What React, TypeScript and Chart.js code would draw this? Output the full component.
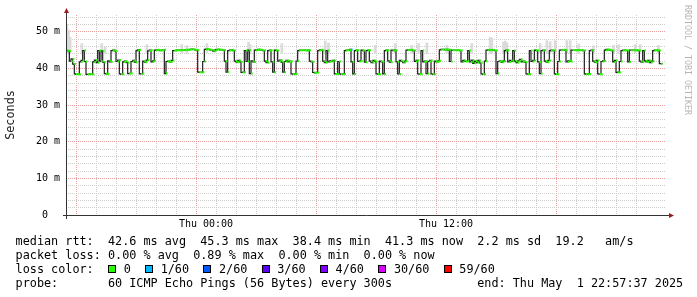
import React, { useEffect, useRef } from "react";
import { Chart, registerables } from "chart.js";

Chart.register(...registerables);

// ---- data ----
const STEP_MINUTES = 5; // one RRD step (300 s)
const HOURS_SHOWN = 30; // Wed 17:00 -> Thu 23:00

// median RTT (ms), one value per 5-minute step, starting Wed 17:00
const medianMs = [
  44.9, 44.9, 44.8, 42.0, 42.6, 41.2, 38.5, 38.4, 38.4, 41.8, 42.2, 44.9,
  41.9, 38.4, 38.4, 38.5, 38.4, 41.8, 42.3, 41.6, 44.9, 42.0, 44.8, 41.7,
  38.6, 38.5, 42.1, 41.8, 44.9, 45.0, 44.8, 41.9, 42.3, 38.5, 38.4, 41.8,
  42.0, 41.6, 38.6, 38.7, 41.9, 42.2, 41.7, 44.9, 45.1, 38.5, 38.6, 42.0,
  41.7, 42.3, 44.8, 45.0, 41.8, 42.1, 45.0, 45.1, 45.0, 44.9, 45.0, 45.1,
  38.6, 41.9, 42.0, 41.8, 42.2, 44.9, 44.9, 45.0, 45.0, 45.0, 45.0, 45.0,
  45.1, 45.1, 45.1, 45.2, 45.3, 45.2, 45.1, 45.0, 39.0, 38.9, 39.0, 41.9,
  45.2, 45.3, 45.2, 45.1, 45.0, 44.7, 45.0, 45.2, 45.2, 45.1, 45.1, 45.0,
  42.0, 39.0, 44.9, 45.0, 45.1, 44.9, 42.0, 41.7, 42.2, 41.8, 38.9, 39.0,
  44.9, 41.9, 45.0, 38.6, 42.1, 41.8, 45.0, 45.1, 45.2, 45.1, 45.0, 44.9,
  42.0, 41.6, 44.9, 45.0, 41.8, 39.0, 45.0, 44.9, 42.0, 42.3, 41.7, 39.0,
  41.9, 42.2, 41.8, 42.0, 38.5, 38.4, 38.5, 42.0, 44.9, 45.0, 45.0, 45.0,
  45.0, 44.9, 45.0, 42.0, 41.8, 38.9, 38.8, 38.9, 44.9, 45.1, 45.0, 42.0,
  41.6, 44.9, 41.8, 42.1, 41.9, 42.2, 38.5, 38.5, 41.9, 38.5, 38.4, 38.5,
  44.9, 45.0, 45.0, 45.2, 41.8, 38.5, 44.9, 45.0, 41.9, 42.1, 45.0, 44.9,
  41.7, 44.9, 45.0, 42.0, 41.6, 42.2, 41.9, 38.5, 38.4, 42.0, 41.8, 38.5,
  44.9, 45.0, 42.1, 41.7, 45.0, 44.9, 45.0, 41.8, 38.5, 42.2, 41.9, 41.6,
  42.0, 45.0, 45.1, 45.1, 45.0, 44.9, 41.9, 42.2, 38.5, 38.4, 44.9, 41.8,
  42.0, 38.6, 41.9, 42.2, 38.5, 38.4, 42.0, 41.8, 42.1, 45.1, 45.2, 45.2,
  45.1, 45.2, 45.1, 41.9, 45.0, 45.0, 45.0, 45.0, 45.0, 44.9, 41.8, 42.2,
  41.9, 42.0, 44.9, 41.8, 42.3, 41.4, 42.0, 41.6, 42.2, 41.5, 38.5, 38.4,
  42.0, 45.0, 45.1, 45.0, 45.1, 45.0, 44.9, 38.6, 41.9, 42.1, 41.7, 42.0,
  44.9, 45.0, 41.8, 42.2, 41.9, 44.9, 42.0, 41.6, 42.1, 42.5, 41.8, 42.0,
  41.7, 38.5, 38.4, 44.9, 41.9, 42.2, 45.0, 44.9, 41.8, 38.6, 44.9, 45.0,
  42.0, 41.7, 42.2, 44.9, 45.0, 44.9, 38.5, 38.4, 41.9, 45.0, 45.1, 45.1,
  45.0, 41.8, 42.1, 41.9, 45.0, 45.0, 45.0, 45.0, 45.0, 45.0, 45.0, 44.9,
  38.5, 38.4, 38.5, 44.9, 45.0, 42.0, 41.7, 42.2, 38.5, 38.4, 41.9, 42.1,
  45.0, 45.2, 45.1, 45.0, 44.9, 41.8, 42.2, 38.9, 39.0, 41.9, 44.9, 45.0,
  45.0, 44.9, 41.8, 45.0, 45.0, 45.0, 45.0, 45.0, 44.9, 42.0, 41.7, 44.9,
  42.1, 41.8, 42.2, 41.6, 42.0, 44.9, 45.0, 45.0, 44.9, 41.3,
];

// steps with packet loss (lost pings out of 60)
const lossStep = [171];
const lossPings = [1];

// smoke (spread of the 60 pings) at steps where it shows above the median
const smokeStep = [
  0, 1, 2, 9, 21, 23, 48, 69, 72, 84, 109, 110, 129, 155, 157, 185, 197, 207, 211, 216,
  228, 243, 254, 255, 262, 263, 264, 284, 288, 290, 293, 300, 302, 307, 316, 328, 331, 341, 344, 355,
];
const smokeLow = [
  44.0, 44.2, 44.3, 44.0, 44.2, 44.0, 44.1, 44.3, 44.0, 44.4, 44.2, 44.0, 44.1, 44.3, 44.0, 44.2, 44.0, 44.1, 44.2, 44.0,
  44.3, 44.1, 44.2, 44.0, 44.3, 44.1, 44.0, 44.2, 44.1, 44.3, 44.0, 44.2, 44.1, 44.0, 44.2, 44.1, 44.0, 44.3, 44.1, 44.2,
];
const smokeHigh = [
  52.0, 50.5, 48.5, 46.8, 46.8, 45.8, 46.5, 46.5, 46.2, 46.8, 47.2, 46.5, 46.8, 47.5, 47.0, 46.3, 46.8, 46.3, 46.8, 47.0,
  46.3, 46.8, 48.5, 48.3, 47.2, 47.5, 47.0, 46.8, 47.6, 47.3, 47.6, 47.6, 47.6, 46.7, 46.2, 46.3, 46.5, 46.5, 46.5, 46.3,
];

// axes
const xTickHours = [7, 19];
const xTickLabels = ["Thu 00:00", "Thu 12:00"];
const xMajorHours = [1, 7, 13, 19, 25];
const yTickValues = [0, 10, 20, 30, 40, 50];
const yTickLabels = ["0  ", "10 m", "20 m", "30 m", "40 m", "50 m"];
const Y_MAX = 54.6;

// legend
const lossLegendLabels = ["0", "1/60", "2/60", "3/60", "4/60", "30/60", "59/60"];
const lossLegendPings = [0, 1, 2, 3, 4, 30, 59];
const lossLegendColors = ["#26ff00", "#00b8ff", "#0059ff", "#5e00ff", "#7e00ff", "#dd00ff", "#ff0000"];
const statsLine = "median rtt:  42.6 ms avg  45.3 ms max  38.4 ms min  41.3 ms now  2.2 ms sd  19.2   am/s";
const lossLine = "packet loss: 0.00 % avg  0.89 % max  0.00 % min  0.00 % now";
const lossColorTitle = "loss color:  ";
const probeLine = "probe:       60 ICMP Echo Pings (56 Bytes) every 300s";
const endLine = "end: Thu May  1 22:57:37 2025";
const sideText = "RRDTOOL / TOBI OETIKER";

const MONO = '"DejaVu Sans Mono", monospace';

function colorForLoss(p: number): string {
  let c = lossLegendColors[0];
  lossLegendPings.forEach((lp, k) => {
    if (p >= lp) c = lossLegendColors[k];
  });
  return c;
}

const rrdAxes = {
  id: "rrdAxes",
  afterDatasetsDraw(chart: any) {
    const { ctx, chartArea: a } = chart;
    ctx.save();
    ctx.strokeStyle = "#333333";
    ctx.lineWidth = 1;
    const x0 = Math.round(a.left) + 0.5;
    const y0 = Math.round(a.bottom) + 0.5;
    ctx.beginPath();
    ctx.moveTo(x0, a.bottom + 4);
    ctx.lineTo(x0, a.top - 3);
    ctx.moveTo(a.left - 3, y0);
    ctx.lineTo(a.right + 4, y0);
    ctx.stroke();
    ctx.fillStyle = "#9b1c1c";
    ctx.beginPath();
    ctx.moveTo(x0 - 2.5, a.top - 2);
    ctx.lineTo(x0 + 2.5, a.top - 2);
    ctx.lineTo(x0, a.top - 7);
    ctx.closePath();
    ctx.fill();
    ctx.beginPath();
    ctx.moveTo(a.right + 3, y0 - 2.5);
    ctx.lineTo(a.right + 3, y0 + 2.5);
    ctx.lineTo(a.right + 8, y0);
    ctx.closePath();
    ctx.fill();
    ctx.restore();
  },
};

export default function App() {
  const ref = useRef<HTMLCanvasElement>(null);

  useEffect(() => {
    const canvas = ref.current;
    if (!canvas) return;
    const stepH = STEP_MINUTES / 60;
    const n = medianMs.length;

    const lineData = medianMs.map((v, i) => ({ x: i * stepH, y: v }));
    lineData.push({ x: n * stepH, y: medianMs[n - 1] });

    const bandData: { x: number; y: number | null }[] = [];
    medianMs.forEach((v, i) => {
      bandData.push({ x: i * stepH, y: v }, { x: (i + 1) * stepH, y: v }, { x: (i + 1) * stepH, y: null });
    });
    const lossByStep = new Map<number, number>(lossStep.map((s, k) => [s, lossPings[k]]));

    const smokeData = smokeStep.map((s, k) => ({ x: (s + 0.5) * stepH, y: [smokeLow[k], smokeHigh[k]] }));

    const minorGrid = "#cdcdcd";
    const majorGrid = "#eba0a0";

    const chart = new Chart(canvas, {
      type: "line",
      data: {
        datasets: [
          {
            type: "line",
            label: "loss",
            data: bandData as any,
            borderColor: lossLegendColors[0],
            borderWidth: 2,
            pointRadius: 0,
            spanGaps: false,
            order: 1,
            segment: {
              borderColor: (c: any) => colorForLoss(lossByStep.get(Math.floor(c.p0DataIndex / 3)) ?? 0),
            },
          } as any,
          {
            type: "line",
            label: "median",
            data: lineData as any,
            stepped: "after",
            borderColor: "#202020",
            borderWidth: 1.2,
            pointRadius: 0,
            order: 2,
          } as any,
          {
            type: "bar",
            label: "smoke",
            data: smokeData as any,
            backgroundColor: "#dadada",
            borderWidth: 0,
            barThickness: 2,
            order: 3,
          } as any,
        ],
      },
      options: {
        responsive: false,
        animation: false,
        devicePixelRatio: 1,
        events: [],
        layout: { padding: { left: 0, top: 15, right: 31, bottom: 62 } },
        plugins: { legend: { display: false }, tooltip: { enabled: false } },
        scales: {
          x: {
            type: "linear",
            min: 0,
            max: HOURS_SHOWN,
            offset: false,
            afterFit: (s: any) => {
              s.height = 20;
            },
            ticks: {
              stepSize: 1,
              autoSkip: false,
              maxRotation: 0,
              minRotation: 0,
              padding: 3,
              color: "#000",
              font: { family: MONO, size: 10 },
              callback: (v: any) => {
                const k = xTickHours.indexOf(Math.round(Number(v)));
                return k >= 0 ? xTickLabels[k] : "";
              },
            },
            grid: {
              drawTicks: false,
              lineWidth: 1,
              color: (c: any) => {
                const v = Math.round(c.tick?.value ?? 0);
                if (v <= 0 || v >= HOURS_SHOWN) return "rgba(0,0,0,0)";
                return xMajorHours.includes(v) ? majorGrid : minorGrid;
              },
            },
            border: { display: false, dash: [1, 1] },
          } as any,
          y: {
            type: "linear",
            min: 0,
            max: Y_MAX,
            afterFit: (s: any) => {
              s.width = 66;
            },
            ticks: {
              stepSize: 2,
              autoSkip: false,
              includeBounds: false,
              padding: 6,
              color: "#000",
              font: { family: MONO, size: 10 },
              callback: (v: any) => {
                const k = yTickValues.indexOf(Math.round(Number(v)));
                return k >= 0 ? yTickLabels[k] : "";
              },
            },
            grid: {
              drawTicks: false,
              lineWidth: 1,
              color: (c: any) => {
                const v = Math.round(c.tick?.value ?? 0);
                if (v <= 0) return "rgba(0,0,0,0)";
                return yTickValues.includes(v) ? majorGrid : minorGrid;
              },
            },
            border: { display: false, dash: [1, 1] },
            title: {
              display: true,
              text: "Seconds",
              color: "#222",
              font: { family: MONO, size: 11.8 },
              padding: { top: 3.7, bottom: 0 },
            },
          } as any,
        },
      },
      plugins: [rrdAxes],
    });
    return () => chart.destroy();
  }, []);

  const lineStyle: React.CSSProperties = {
    position: "absolute",
    left: 15.6,
    fontFamily: MONO,
    fontSize: "11.8px",
    lineHeight: "14px",
    whiteSpace: "pre",
    color: "#000",
  };

  return (
    <div style={{ position: "fixed", left: 0, top: 0, width: 697, height: 297, background: "#fff", overflow: "hidden" }}>
      <canvas ref={ref} width={697} height={297} style={{ position: "absolute", left: 0, top: 0, width: 697, height: 297 }} />
      <div style={{ ...lineStyle, top: 234 }}>{statsLine}</div>
      <div style={{ ...lineStyle, top: 248 }}>{lossLine}</div>
      <div style={{ ...lineStyle, top: 262 }}>
        {lossColorTitle}
        {lossLegendLabels.map((lab, k) => (
          <React.Fragment key={lab}>
            <span
              style={{
                display: "inline-block",
                width: 6,
                height: 6,
                border: "1px solid #000",
                background: lossLegendColors[k],
                marginRight: 7.7,
                verticalAlign: "baseline",
              }}
            />
            {k < lossLegendLabels.length - 1 ? lab + "  " : lab}
          </React.Fragment>
        ))}
      </div>
      <div style={{ ...lineStyle, top: 276 }}>{probeLine.padEnd(65, " ") + endLine}</div>
      <div
        style={{
          position: "absolute",
          left: 682.7,
          top: 4.5,
          writingMode: "vertical-rl",
          fontFamily: MONO,
          fontSize: "8.3px",
          lineHeight: "10px",
          whiteSpace: "pre",
          color: "#b5b5b5",
        }}
      >
        {sideText}
      </div>
    </div>
  );
}
